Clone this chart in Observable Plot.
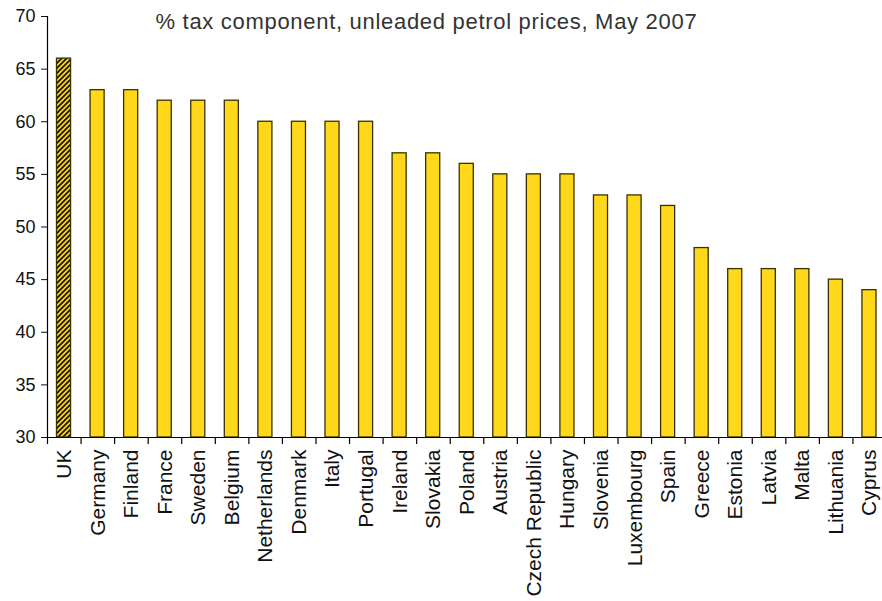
<!DOCTYPE html>
<html>
<head>
<meta charset="utf-8">
<script src="https://cdn.jsdelivr.net/npm/d3@7"></script>
<script src="https://cdn.jsdelivr.net/npm/@observablehq/plot@0.6"></script>
<style>
  body { margin: 0; background: #fff; }
  svg { font-family: "Liberation Sans", Arial, sans-serif; }
</style>
</head>
<body>
<div id="chart"></div>
<script>
const countries = ["UK","Germany","Finland","France","Sweden","Belgium","Netherlands","Denmark","Italy","Portugal","Ireland","Slovakia","Poland","Austria","Czech Republic","Hungary","Slovenia","Luxembourg","Spain","Greece","Estonia","Latvia","Malta","Lithuania","Cyprus"];
const taxShare = [66,63,63,62,62,62,60,60,60,60,57,57,56,55,55,55,53,53,52,48,46,46,46,45,44];
const yTicks = [30,35,40,45,50,55,60,65,70];
const titleText = "% tax component, unleaded petrol prices, May 2007";
const highlight = "UK";

const data = countries.map((c, i) => ({country: c, value: taxShare[i]}));
const x0 = 47, x1 = 886;
const step = (x1 - x0) / countries.length;
const barFill = "#FFD71B";
const barStroke = "#3a3100";

const chart = Plot.plot({
  width: 882,
  height: 601,
  marginLeft: 47,
  marginRight: 0,
  marginTop: 16,
  marginBottom: 164,
  x: {domain: countries, range: [x0, x1], padding: 0, round: false, axis: null, label: null},
  y: {domain: [30, 70], axis: null, label: null},
  marks: [
    Plot.barY(data.filter(d => d.country !== highlight), {x: "country", y1: 30, y2: "value", fill: barFill, stroke: barStroke, strokeWidth: 1.3, insetLeft: 9.5, insetRight: 10}),
    Plot.barY(data.filter(d => d.country === highlight), {x: "country", y1: 30, y2: "value", fill: "url(#hatch)", stroke: barStroke, strokeWidth: 1.3, insetLeft: 9.5, insetRight: 10}),
    Plot.ruleY([30], {stroke: "#000", strokeWidth: 1.2}),
    Plot.ruleX([countries[0]], {x: d => d, y1: 30, y2: 70, dx: -step / 2, stroke: "#000", strokeWidth: 1.2}),
    Plot.ruleX(countries, {x: d => d, y1: 30, y2: 29.33, dx: -step / 2, stroke: "#000", strokeWidth: 1.2}),
    Plot.axisY({ticks: yTicks, tickSize: 6, tickPadding: 6, fontSize: 18, color: "#111", tickFormat: d => d, label: null}),
    Plot.axisX({tickSize: 0, tickRotate: -90, tickPadding: 12, fontSize: 21, color: "#111", label: null}),
    Plot.text([titleText], {frameAnchor: "top-left", dx: 108, dy: 5, lineAnchor: "middle", textAnchor: "start", fontSize: 22, fill: "#333", style: "letter-spacing:0.7px"})
  ]
});

const defs = d3.create("svg:defs");
const pat = defs.append("pattern")
  .attr("id", "hatch")
  .attr("patternUnits", "userSpaceOnUse")
  .attr("width", 5).attr("height", 5);
pat.append("rect").attr("width", 5).attr("height", 5).attr("fill", barFill);
pat.append("path")
  .attr("d", "M-1,1 L1,-1 M0,5 L5,0 M4,6 L6,4")
  .attr("stroke", "#1a1500")
  .attr("stroke-width", 1.8);
chart.insertBefore(defs.node(), chart.firstChild);
chart.querySelectorAll("text").forEach(t => {
  if (t.textContent === titleText) t.setAttribute("letter-spacing", "0.7");
});

document.getElementById("chart").appendChild(chart);
</script>
</body>
</html>
